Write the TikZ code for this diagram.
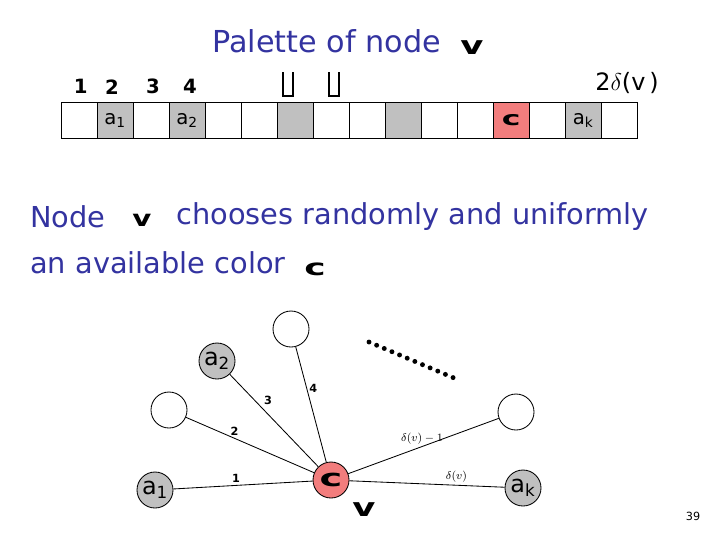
\documentclass[tikz,border=0pt]{standalone}
\usepackage{fontspec}
\setmainfont{DejaVu Sans}
\usepackage{graphicx}
\usetikzlibrary{positioning}
\definecolor{slideblue}{RGB}{51,51,160}
\definecolor{cellgray}{RGB}{192,192,192}
\definecolor{cellred}{RGB}{242,125,125}

\begin{document}
\begin{tikzpicture}[x=0.025cm, y=-0.025cm,
  slide/.style={font=\fontsize{#1}{23}\selectfont, text=slideblue, inner sep=0pt, anchor=west},
  slide/.default=20.5,
  glyph/.style={font=\fontsize{#1}{#1}\selectfont\bfseries, inner sep=0pt},
  cell/.style={draw, line width=0.6pt, fill=#1, minimum width=0.9cm, minimum height=0.9cm,
               inner sep=0pt, anchor=north west, font=\fontsize{14}{16}\selectfont},
  vert/.style={circle, draw, line width=0.6pt, fill=#1, minimum size=0.9cm, inner sep=0pt,
               font=\fontsize{17}{20}\selectfont},
  edge/.style={line width=0.6pt},
  elbl/.style={font=\fontsize{8}{9}\selectfont\bfseries, inner sep=1.5pt},
  dots/.style={line width=3.5pt, line cap=round, dash pattern=on 0pt off 5.9pt},
]
  \useasboundingbox (0,0) rectangle (720,540);

  % Title
  \node[slide=21.5] (title) at (212,41) {Palette of node};
  \node[glyph=18] (tv) at (472,48) {\scalebox{1.4}[1]{v}};

  % Palette
  \foreach \i/\col/\txt in {1/white/{}, 2/cellgray/{a\textsubscript{1}}, 3/white/{},
      4/cellgray/{a\textsubscript{2}}, 5/white/{}, 6/white/{}, 7/cellgray/{}, 8/white/{},
      9/white/{}, 10/cellgray/{}, 11/white/{}, 12/white/{},
      13/cellred/{\raisebox{-5pt}{\bfseries\scalebox{1.6}[1]{c}}}, 14/white/{},
      15/cellgray/{a\textsubscript{k}}, 16/white/{}}
    \node[cell=\col] (p\i) at ({60.7+(\i-1)*36},102) {\txt};

  \foreach \i/\x in {1/80.7, 2/112, 3/153, 4/190}
    \node[glyph=14] (n\i) at (\x,86.7) {\i};
  \foreach \x in {288,334}
    \draw[line width=1.4pt] (\x-5,72) -- (\x-5,95.7) -- (\x+5,95.7) -- (\x+5,72);
  \node[font=\fontsize{17}{20}\selectfont, inner sep=0pt] (top) at (627,83) {2$\delta$(v\,)};

  % Text
  \node[slide] (l1a) at (30,217) {Node};
  \node[glyph=16] (l1v) at (142,220) {\scalebox{1.3}[1]{v}};
  \node[slide] (l1b) at (176,217) {chooses randomly and uniformly};
  \node[slide] (l2) at (30,263) {an available color};
  \node[glyph=16] (l2c) at (315,269) {\scalebox{1.6}[1]{c}};

  % Graph
  \node[vert=cellred]  (v)  at (331,480) {\bfseries\scalebox{1.6}[1]{c}};
  \node[vert=cellgray] (a1) at (155,490) {a\textsubscript{1}};
  \node[vert=white]    (u2) at (169,410) {};
  \node[vert=cellgray] (a2) at (217,361) {a\textsubscript{2}};
  \node[vert=white]    (u4) at (291,329) {};
  \node[vert=white]    (u5) at (516,412) {};
  \node[vert=cellgray] (ak) at (523,488) {a\textsubscript{k}};
  \node[glyph=18] (vlbl) at (364,510) {\scalebox{1.4}[1]{v}};

  \draw[edge] (v) -- node[elbl, pos=0.55, above] {1} (a1);
  \draw[edge] (v) -- node[elbl, pos=0.62, above] {2} (u2);
  \draw[edge] (v) -- node[elbl, pos=0.64, above right] {3} (a2);
  \draw[edge] (v) -- node[elbl, pos=0.64, right] {4} (u4);
  \draw[edge] (v) -- node[elbl, pos=0.49, above] {$\delta(v)-1$} (u5);
  \draw[edge] (v) -- node[elbl, pos=0.69, above] {$\delta(v)$} (ak);

  \coordinate (d1) at (369,342);
  \coordinate (d2) at (454,378);
  \draw[dots] (d1) -- (d2);

  \node[font=\fontsize{8}{9}\selectfont, inner sep=0pt] (pg) at (693,516) {39};
\end{tikzpicture}
\end{document}
